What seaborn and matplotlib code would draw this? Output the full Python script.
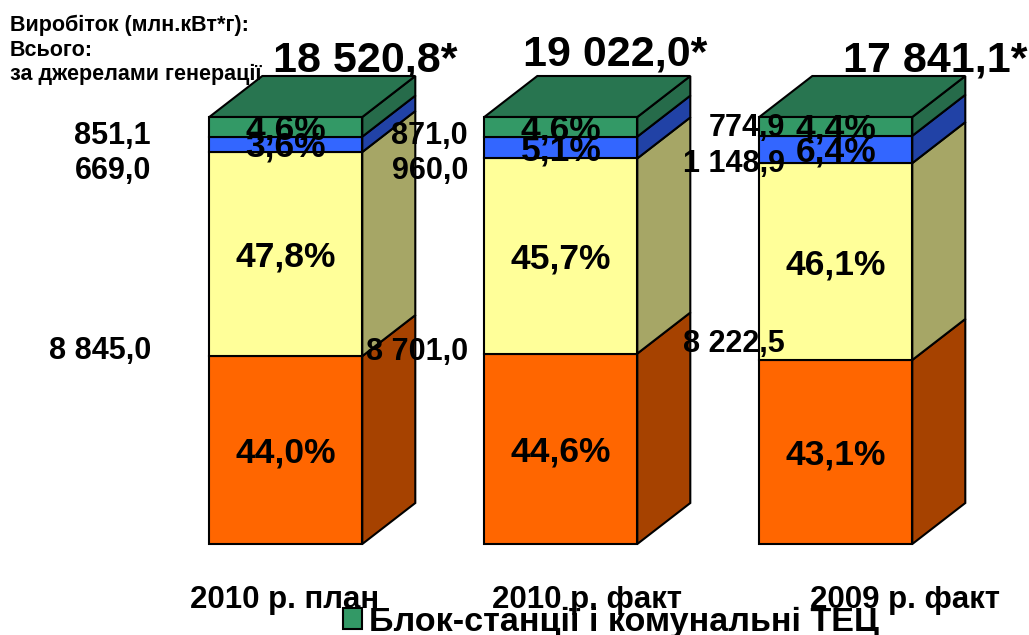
import numpy as np
import pandas as pd
import matplotlib
matplotlib.use('Agg')
import matplotlib.pyplot as plt
import seaborn as sns
from matplotlib.patches import Polygon

# Data
categories = ['2010 р. план', '2010 р. факт', '2009 р. факт']
totals = ['18 520,8*', '19 022,0*', '17 841,1*']
series_names = ['ТЕС', 'ГЕС', 'Інші', 'Блок-станції і комунальні ТЕЦ']
share_large = [44.0, 44.6, 43.1]
share_mid = [47.8, 45.7, 46.1]
share_hydro = [3.6, 5.1, 6.4]
share_block = [4.6, 4.6, 4.4]
pct_large = ['44,0%', '44,6%', '43,1%']
pct_mid = ['47,8%', '45,7%', '46,1%']
pct_hydro = ['3,6%', '5,1%', '6,4%']
pct_block = ['4,6%', '4,6%', '4,4%']
gen_large = ['8 845,0', '8 701,0', '8 222,5']
gen_hydro = ['669,0', '960,0', '1 148,9']
gen_block = ['851,1', '871,0', '774,9']

front_colors = ['#FF6600', '#FFFF99', '#3366FF', '#339966']
side_colors = ['#A64200', '#A6A666', '#2142A6', '#266B4A']
top_color = '#287550'

W, H = 1029, 635
sns.set_theme(style='white')
plt.rcParams['font.family'] = ['Liberation Sans', 'DejaVu Sans']
plt.rcParams['font.weight'] = 'bold'

fig = plt.figure(figsize=(W / 100, H / 100), dpi=100)
ax = fig.add_axes([0, 0, 1, 1])

# pixels per data unit, bars sit on y=0 and reach 100
ppx, ppy = 275.0, 4.27
depth_x, depth_y = 53 / ppx, 41 / ppy
bar_w = 153 / ppx


def px(x, y):
    return x / W, 1 - y / H


all_shares = [share_large, share_mid, share_hydro, share_block]
bottom = np.zeros(3)
tops = []
for i, vals in enumerate(all_shares):
    df = pd.DataFrame({'cat': categories, 'val': vals})
    label = series_names[i] if i == 3 else None
    sns.barplot(data=df, x='cat', y='val', bottom=bottom, color=front_colors[i], saturation=1,
                width=bar_w, edgecolor='black', linewidth=1.5, label=label, ax=ax, zorder=3)
    # side face of the 3d box
    for j in range(3):
        xr = j + bar_w / 2
        y0, y1 = bottom[j], bottom[j] + vals[j]
        ax.add_patch(Polygon([(xr, y0), (xr + depth_x, y0 + depth_y), (xr + depth_x, y1 + depth_y), (xr, y1)],
                             facecolor=side_colors[i], edgecolor='black', linewidth=1.5, zorder=2))
    bottom = bottom + np.array(vals)
    tops.append(bottom.copy())

# top face
for j in range(3):
    xl, xr = j - bar_w / 2, j + bar_w / 2
    y = bottom[j]
    ax.add_patch(Polygon([(xl, y), (xl + depth_x, y + depth_y), (xr + depth_x, y + depth_y), (xr, y)],
                         facecolor=top_color, edgecolor='black', linewidth=1.5, zorder=2))

ax.set_xlim(-285.8 / ppx, (W - 285.8) / ppx)
ax.set_ylim(-(H - 544) / ppy, 544 / ppy)
ax.axis('off')

# percent labels centred in the segments
pct_all = [pct_large, pct_mid, pct_hydro, pct_block]
for i, labels in enumerate(pct_all):
    for j, s in enumerate(labels):
        yc = tops[i][j] - all_shares[i][j] / 2
        ax.text(j, yc - 3 / ppy, s, ha='center', va='center', fontsize=25.5, fontweight='bold', color='black', zorder=5)

# generation values, left of each bar
val_x = [151, 468, 785]
val_y = [(351, 171, 136), (352, 171, 136), (344, 164, 128)]
for j in range(3):
    for s, y in zip([gen_large[j], gen_hydro[j], gen_block[j]], val_y[j]):
        fig.text(*px(val_x[j], y), s, ha='right', va='center', fontsize=22, fontweight='bold', color='black', zorder=6)

# totals sit behind the boxes, the comma of the first one gets covered
total_pos = [(365, 60), (615, 54), (935, 60)]
for s, (x, y) in zip(totals, total_pos):
    ax.text(*px(x, y), s, transform=fig.transFigure, ha='center', va='center', fontsize=31,
            fontweight='bold', color='black', zorder=1)

# header
for s, y in zip(['Виробіток (млн.кВт*г):', 'Всього:', 'за джерелами генерації'], [25, 50, 74]):
    fig.text(*px(10, y), s, ha='left', va='center', fontsize=15.5, fontweight='bold', color='black', zorder=6)

# category labels
cat_x = [285, 587, 905]
for s, x in zip(categories, cat_x):
    fig.text(*px(x, 600), s, ha='center', va='center', fontsize=22.5, fontweight='bold', color='black', zorder=6)

# legend, runs off the bottom edge like the original
leg = ax.legend(loc='center left', bbox_to_anchor=px(343, 622), bbox_transform=fig.transFigure,
                frameon=False, fontsize=24.6, handlelength=0.55, handleheight=0.55, handletextpad=0.2,
                borderpad=0, borderaxespad=0)
for t in leg.get_texts():
    t.set_fontweight('bold')
    t.set_color('black')

fig.savefig('out.png', dpi=100)
